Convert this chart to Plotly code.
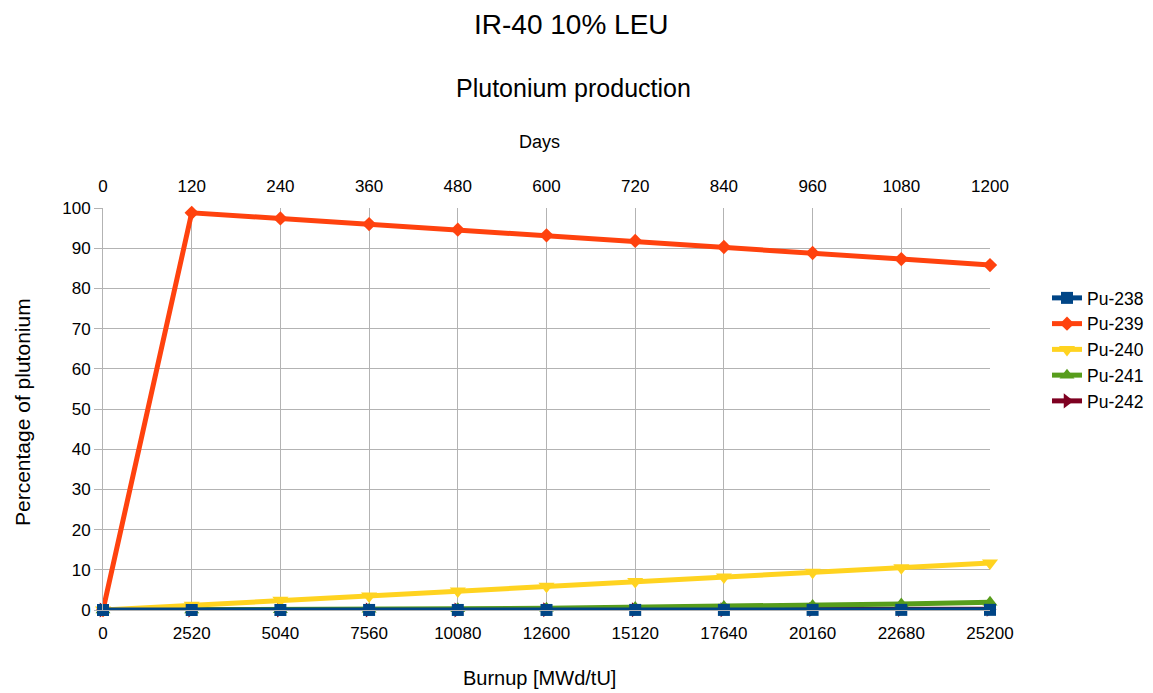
import plotly.graph_objects as go

burnup = [0, 2520, 5040, 7560, 10080, 12600, 15120, 17640, 20160, 22680, 25200]
days = [0, 120, 240, 360, 480, 600, 720, 840, 960, 1080, 1200]
pu238 = [0, 0.0, 0.0, 0.01, 0.01, 0.01, 0.02, 0.02, 0.03, 0.03, 0.04]
pu239 = [0, 98.8, 97.4, 96.0, 94.6, 93.2, 91.8, 90.3, 88.8, 87.3, 85.8]
pu240 = [0, 1.2, 2.4, 3.5, 4.7, 5.9, 7.1, 8.2, 9.4, 10.5, 11.7]
pu241 = [0, 0.02, 0.08, 0.17, 0.3, 0.45, 0.65, 0.9, 1.15, 1.5, 1.9]
pu242 = [0, 0.0, 0.005, 0.01, 0.02, 0.04, 0.06, 0.08, 0.11, 0.14, 0.18]

series = [
    ("Pu-242", pu242, "#7e0021", "triangle-right", 13),
    ("Pu-241", pu241, "#579d1c", "triangle-up", 13),
    ("Pu-240", pu240, "#ffd320", "triangle-down", 14),
    ("Pu-239", pu239, "#ff420e", "diamond", 11),
    ("Pu-238", pu238, "#004586", "square", 12),
]

FONT = "Liberation Sans, Arial, sans-serif"
fig = go.Figure()
for name, vals, color, sym, sz in series:
    fig.add_trace(go.Scatter(
        x=burnup, y=vals, name=name, mode="lines+markers",
        line=dict(color=color, width=5),
        marker=dict(symbol=sym, size=sz, color=color),
        cliponaxis=False,
    ))
fig.add_trace(go.Scatter(x=days, y=[None] * len(days), xaxis="x2", showlegend=False,
                         hoverinfo="skip", mode="lines"))

# page has an 8px body offset
OFF = 8
W, H = 1153 - OFF, 693 - OFF
l, t = 103 - OFF, 208 - OFF
pw = 990 - 103
ph = 610 - 208
r = W - l - pw
b = H - t - ph

def py(pix):
    return (610 - pix) / ph

def px(pix):
    return (pix - 103) / pw

grid = "#b3b3b3"
tf = dict(size=17, family=FONT, color="#000")
fig.update_layout(
    width=W, height=H,
    margin=dict(l=l, r=r, t=t, b=b, autoexpand=False),
    paper_bgcolor="white", plot_bgcolor="white",
    font=dict(family=FONT, color="#000000", size=17),
    showlegend=True,
    legend=dict(x=px(1047), y=py(280), xanchor="left", yanchor="top",
                traceorder="reversed", font=dict(size=17.5, family=FONT),
                itemwidth=30, tracegroupgap=0, bgcolor="rgba(0,0,0,0)"),
    xaxis=dict(range=[0, 25200], tickmode="array", tickvals=burnup,
               ticktext=[str(v) for v in burnup],
               showgrid=True, gridcolor=grid, gridwidth=1,
               zeroline=False, showline=True, linecolor=grid,
               ticks="outside", ticklen=8, tickcolor="rgba(0,0,0,0)", tickfont=tf),
    xaxis2=dict(range=[0, 1200], tickmode="array", tickvals=days,
                ticktext=[str(v) for v in days],
                overlaying="x", side="top", anchor="y",
                showgrid=False, zeroline=False, showline=False,
                ticks="outside", ticklen=8, tickcolor="rgba(0,0,0,0)", tickfont=tf),
    yaxis=dict(range=[0, 100], dtick=10, showgrid=True, gridcolor=grid, gridwidth=1,
               zeroline=False, showline=True, linecolor=grid,
               ticks="outside", ticklen=8, tickcolor=grid, tickfont=tf),
    annotations=[
        dict(text="IR-40 10% LEU", x=px(571), y=py(25), xref="paper", yref="paper",
             xanchor="center", yanchor="middle", showarrow=False,
             font=dict(size=28, family=FONT)),
        dict(text="Plutonium production", x=px(573), y=py(88), xref="paper", yref="paper",
             xanchor="center", yanchor="middle", showarrow=False,
             font=dict(size=25, family=FONT)),
        dict(text="Days", x=px(539), y=py(142), xref="paper", yref="paper",
             xanchor="center", yanchor="middle", showarrow=False,
             font=dict(size=18, family=FONT)),
        dict(text="Burnup [MWd/tU]", x=px(539), y=py(678), xref="paper", yref="paper",
             xanchor="center", yanchor="middle", showarrow=False,
             font=dict(size=20, family=FONT)),
        dict(text="Percentage of plutonium", x=px(22), y=py(412), xref="paper", yref="paper",
             xanchor="center", yanchor="middle", showarrow=False, textangle=-90,
             font=dict(size=21, family=FONT)),
    ],
)

fig.write_html("out.html")
